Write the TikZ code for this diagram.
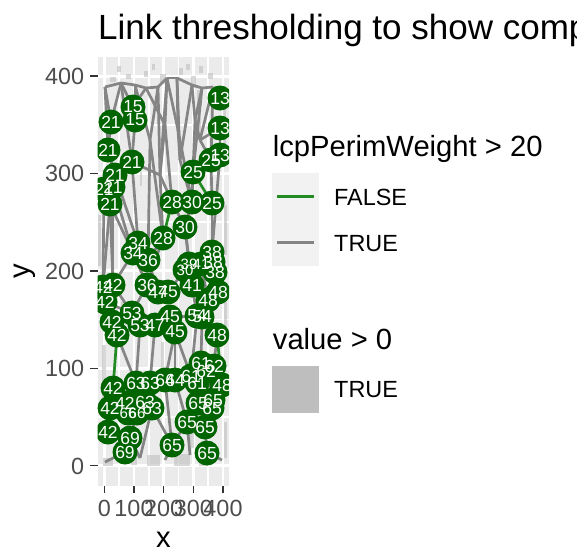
\documentclass[tikz,border=0pt]{standalone}
\usepackage{fontspec}
\setmainfont{Liberation Sans}
\definecolor{panelbg}{HTML}{EBEBEB}
\definecolor{ptgreen}{HTML}{006400}
\definecolor{edgegray}{HTML}{858585}
\definecolor{edgegreen}{HTML}{228B22}
\definecolor{rastergray}{HTML}{BEBEBE}
\definecolor{keybg}{HTML}{F2F2F2}
\definecolor{axtext}{HTML}{4D4D4D}
\definecolor{tickcol}{HTML}{333333}
\tikzset{
  vpt/.style={circle, fill=ptgreen, minimum size=25pt, inner sep=0pt},
  vlab/.style={text=white, font=\fontsize{17.5}{17.5}\selectfont, inner sep=0pt},
  vlabs/.style={text=white, font=\fontsize{15}{15}\selectfont, inner sep=0pt},
  sedge/.style={draw=edgegray, line width=2.7pt},
  gedge/.style={draw=edgegreen, line width=2.7pt},
  majgrid/.style={draw=white, line width=2.9pt},
  mingrid/.style={draw=white, line width=1.45pt},
  axlab/.style={text=axtext, font=\fontsize{23.4}{23.4}\selectfont, inner sep=0pt},
  axtick/.style={draw=tickcol, line width=1.3pt},
  ttl/.style={text=black, font=\fontsize{29.2}{29.2}\selectfont, inner sep=0pt},
  legtxt/.style={text=black, font=\fontsize{23.4}{23.4}\selectfont, inner sep=0pt},
  rast/.style={fill=rastergray, opacity=0.6},
}
\begin{document}
\begin{tikzpicture}[x=1pt,y=-1pt]
\useasboundingbox (0,0) rectangle (577,552);
\fill[white] (0,0) rectangle (577,552);
% title
\node[anchor=base west, inner sep=0pt, font=\fontsize{35}{35}\selectfont] (title) at (98,39) {Link thresholding to show components};
% panel
\coordinate (pbl) at (97.7,486);
\coordinate (ptr) at (229,57);
\fill[panelbg] (pbl) rectangle (ptr);
\begin{scope}
\clip (pbl) rectangle (ptr);
% grid
\foreach \gx in {119.1,148.8,178.5,208.2} \draw[mingrid] (\gx,57) -- (\gx,486);
\foreach \gy in {417.0,319.6,222.2,124.8} \draw[mingrid] (97.7,\gy) -- (229,\gy);
\foreach \gx in {104.3,134.0,163.7,193.3,223.0} \draw[majgrid] (\gx,57) -- (\gx,486);
\foreach \gy in {465.7,368.3,270.9,173.5,76.1} \draw[majgrid] (97.7,\gy) -- (229,\gy);
% raster (value > 0)
\foreach \ax/\ay/\bx/\by in {110/77/116/82, 126/74/131/79, 160/74/166/84, 191/76/196/88, 197/90/202/106, 144/71/148/77, 179/68/183/75, 208/73/213/79,
  117/66/121/72, 152/64/155/70, 186/64/190/70, 199/66/203/73,
  198/112/201/140, 140/172/142/186, 98/215/101/266, 102/345/106/414, 103/458/113/466, 147/455/160/466, 174/454/190/466, 189/432/194/448,
  223/102/226/148, 224/205/227/255, 224/302/227/338, 224/422/227/458, 121/302/123/328, 161/342/164/368, 131/456/137/465, 199/456/208/466}
  \fill[rast] (\ax,\ay) rectangle (\bx,\by);
% vertices
\foreach \n/\x/\y in {t1/105/87, t2/121/83, t3/135/85, t4/146/88, t5/158/87, t6/167/78, t7/177/78, t8/192/85, t9/202/88, t10/213/87,
  m1/150/140, m2/165/125, m3/178/130, m4/195/120, m5/160/175, m6/180/160, m7/200/140,
  b1/105/462, b2/140/458, b3/165/460, b4/190/455, b5/222/460}
  \coordinate (\n) at (\x,\y);
\foreach \n/\x/\y/\t in {15a/133/107/15, 15b/135/120/15, 21a/111/122/21, 13a/220/98/13, 13b/220/128/13, 21b/108/150/21, 21c/132/162/21,
  13c/220/155/13, 25a/211/160/25, 25b/193/172/25, 21d/115/175/21, 21e/113/187/21, 21g/104/189/21, 21f/110/204/21, 28a/172/202/28,
  30a/192/202/30, 25c/212/203/25, 30b/185/227/30, 28b/163/238/28, 34a/138/243/34, 34b/133/253/34, 36a/148/260/36, 38a/212/252/38,
  38b/213/262/38, 38c/215/272/38, 30c/185/270/30, 39/189/264/39, 41a/201/264/41, 36b/147/285/36, 47a/158/292/47, 45a/168/292/45,
  41b/192/285/41, 48a/218/292/48, 48b/208/300/48, 42a/103/287/42, 42b/113/285/42, 42c/105/302/42, 53a/132/313/53, 53b/140/325/53,
  47b/155/325/47, 45b/170/317/45, 45c/175/332/45, 54a/197/316/54, 54b/202/317/54, 42d/112/322/42, 42e/117/335/42, 48c/217/335/48,
  61a/201/363/61, 62a/214/366/62, 61b/191/376/61, 62b/206/371/62, 63a/136/383/63, 63b/150/383/63, 64a/165/380/64, 64b/175/380/64,
  61c/197/383/61, 48d/222/385/48, 42f/113/388/42, 42g/110/408/42, 42h/125/403/42, 63c/145/402/63, 63d/152/408/63, 66a/128/413/66,
  66b/137/413/66, 65a/198/403/65, 65b/213/400/65, 65c/212/408/65, 65d/187/422/65, 65e/205/427/65, 42i/108/432/42, 69a/130/438/69,
  69b/125/452/69, 65f/172/445/65, 65g/207/453/65}
  \coordinate (n\n) at (\x,\y);
% edges TRUE
\foreach \a/\b in {t1/t2, t2/t3, t3/t4, t4/t5, t5/t6, t6/t7, t7/t8, t8/t9, t9/t10, t10/n13a,
  t1/n21a, t1/n21b, t2/n21a, t2/n15a, t2/n21c, t3/n15b, t3/m1, t4/n15a, t4/m2, t5/m1, t5/m5, t6/m2, t6/m3, t6/m5,
  t7/m3, t7/m6, t8/m6, t8/m4, t9/m4, t9/n25b, t10/m7, t10/n25a,
  m1/n28b, m1/n36a, m2/n28a, m2/m5, m3/n30a, m3/m6, m4/m7, m4/n25b, m5/n28b, m5/n28a, m6/n30a, m7/n25a, m7/n13b,
  n21a/n21b, n21b/n21d, n15b/n21c, n21c/n34a, n21c/m5, n21d/n21f, n21d/n34a, n21e/n42b, n21g/n42a, n21f/n42a, n21f/n34b,
  n28a/n30b, n30a/n30b, n30a/n25c, n25c/n38a, n25b/n30a, n13c/n38a, n13b/n13c, n13c/n25a, n25a/n25c,
  n28b/n36a, n28b/n36b, n34a/n34b, n34a/n36a, n34b/n36b, n36a/n47a, n30b/n39, n30b/n41b, n38a/n38b, n38b/n38c, n38c/n48a,
  n39/n41a, n41a/n48b, n30c/n45a, n21f/n42b, n34b/n42b, n21e/n34b, n42c/n53a, n42b/n42d,
  n36b/n47a, n47a/n45a, n45a/n41b, n41b/n48b, n48b/n48a, n42a/n42b, n42b/n53a, n42c/n42d, n36b/n53a, n53a/n53b, n53b/n47b,
  n47b/n45b, n45b/n45c, n45b/n54a, n54a/n54b, n54b/n48c, n48b/n54b, n41b/n54a, n42d/n42e, n42e/n63a,
  n53b/n63a, n47b/n63b, n45c/n64a, n45c/n64b, n54a/n61b, n48c/n62a, n61a/n62a, n61b/n61c, n63a/n63b, n63b/n64a, n64a/n64b,
  n64b/n61b, n42f/n42g, n42f/n42h, n63a/n63c, n63c/n63d, n42h/n66a, n66a/n66b, n61c/n65a, n65a/n65b, n65b/n65c, n48d/n65b,
  n65a/n65d, n65d/n65e, n65e/n65c, n42g/n42i, n42i/n69a, n69a/n69b, n66b/n69a, n63d/n65f, n65d/n65f, n65e/n65g, n65f/b3,
  n65g/b5, n69b/b1, n69a/b2, n63d/b2, n65d/b4, n64b/n65d, n45c/n61b, n64a/n65f, n54b/n61a, n62b/n65b}
  \draw[sedge] (\a) -- (\b);
% edges FALSE
\foreach \a/\b in {n42e/n42f, n48c/n48d, n28a/n28b, n25b/n25c}
  \draw[gedge] (\a) -- (\b);
% points
\foreach \n in {15a,15b,21a,13a,13b,21b,21c,13c,25a,25b,21d,21e,21g,21f,28a,30a,25c,30b,28b,34a,34b,36a,38a,38b,38c,30c,39,41a,
  36b,47a,45a,41b,48a,48b,42a,42b,42c,53a,53b,47b,45b,45c,54a,54b,42d,42e,48c,61a,62a,61b,62b,63a,63b,64a,64b,61c,48d,42f,42g,
  42h,63c,63d,66a,66b,65a,65b,65c,65d,65e,42i,69a,69b,65f,65g}
  \node[vpt] (c\n) at (n\n) {};
% labels
\foreach \n/\t in {15a/15, 15b/15, 21a/21, 13a/13, 13b/13, 21b/21, 21c/21, 13c/13, 25a/25, 25b/25, 21d/21, 21e/21, 21g/21, 21f/21,
  28a/28, 30a/30, 25c/25, 30b/30, 28b/28, 34a/34, 34b/34, 36a/36, 38a/38, 38b/38, 38c/38, 36b/36, 47a/47, 45a/45, 41b/41,
  48a/48, 48b/48, 42a/42, 42b/42, 42c/42, 53a/53, 53b/53, 47b/47, 45b/45, 45c/45, 54a/54, 54b/54, 42d/42, 42e/42, 48c/48,
  61a/61, 62a/62, 61b/61, 62b/62, 63a/63, 63b/63, 64a/64, 64b/64, 61c/61, 48d/48, 42f/42, 42g/42, 42h/42, 63c/63, 63d/63,
  65a/65, 65b/65, 65c/65, 65d/65, 65e/65, 42i/42, 69a/69, 69b/69, 65f/65, 65g/65}
  \node[vlab] (l\n) at (n\n) {\t};
\foreach \n/\t in {30c/30, 39/39, 41a/41, 66a/66, 66b/66}
  \node[vlabs] (l\n) at (n\n) {\t};
\end{scope}
% axes ticks and labels
\foreach \gy/\lab in {465.7/0, 368.3/100, 270.9/200, 173.5/300, 76.1/400} {
  \draw[axtick] (90.3,\gy) -- (97.7,\gy);
  \node[axlab, anchor=base east] (ylab\lab) at (84.4,\gy+8.4) {\lab};
}
\foreach \gx/\lab in {104.3/0, 134.0/100, 163.7/200, 193.3/300, 223.0/400} {
  \draw[axtick] (\gx,486) -- (\gx,493.4);
  \node[axlab, anchor=base] (xlab\lab) at (\gx,516) {\lab};
}
\node[ttl, anchor=base] (xtitle) at (163.5,547) {x};
\node[ttl, anchor=base, rotate=90] (ytitle) at (29,271.5) {y};
% legend 1
\node[ttl, anchor=base west] (leg1t) at (272.7,156) {lcpPerimWeight > 20};
\fill[keybg] (272.3,172.7) rectangle (319,265.7);
\coordinate (lg1a) at (277.3,196.7);
\coordinate (lg1b) at (314,196.7);
\coordinate (lg2a) at (277.3,242.7);
\coordinate (lg2b) at (314,242.7);
\draw[gedge] (lg1a) -- (lg1b);
\draw[sedge] (lg2a) -- (lg2b);
\node[legtxt, anchor=base west] (leg1f) at (334,205.1) {FALSE};
\node[legtxt, anchor=base west] (leg1tr) at (334,251.1) {TRUE};
% legend 2
\node[ttl, anchor=base west] (leg2t) at (272.7,349.3) {value > 0};
\fill[rastergray] (272.3,366) rectangle (319,412.7);
\node[legtxt, anchor=base west] (leg2tr) at (334,397.7) {TRUE};
\end{tikzpicture}
\end{document}
